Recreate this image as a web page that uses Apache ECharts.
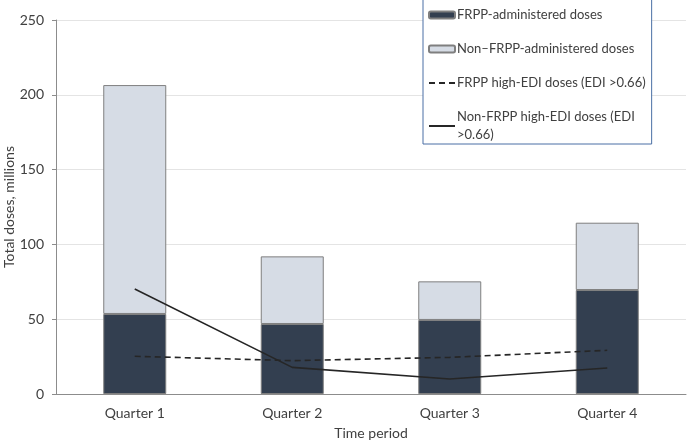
<!DOCTYPE html>
<html>
<head>
<meta charset="utf-8">
<script src="https://cdn.jsdelivr.net/npm/echarts@6/dist/echarts.min.js"></script>
<style>
html,body{margin:0;padding:0;background:#fff;}
#c{width:690px;height:443px;}
</style>
</head>
<body>
<div id="c"></div>
<script>
const categories = ['Quarter 1', 'Quarter 2', 'Quarter 3', 'Quarter 4'];
const frppDoses = [53.5, 46.8, 49.5, 69.5];
const nonFrppDoses = [153, 45.2, 25.8, 45];
const frppHighEdi = [25.2, 22.3, 24.5, 29.2];
const nonFrppHighEdi = [70.2, 17.8, 10, 17.4];
const yTicks = [0, 50, 100, 150, 200, 250];
const seriesNames = ['FRPP-administered doses', 'Non\u2013FRPP-administered doses', 'FRPP high-EDI doses (EDI >0.66)', 'Non-FRPP high-EDI doses (EDI >0.66)'];

const FONT = 'Lato';
const TXT = '#404040';
const chart = echarts.init(document.getElementById('c'), null, {renderer: 'canvas'});
chart.setOption({
  animation: false,
  backgroundColor: '#fff',
  textStyle: {fontFamily: FONT, color: TXT},
  grid: {left: 56, right: 4, top: 20, bottom: 49, containLabel: false, outerBoundsMode: 'none'},
  legend: {
    orient: 'vertical',
    left: 423, top: -1,
    padding: [7, 6, 0, 5],
    itemGap: 16,
    itemWidth: 26, itemHeight: 7,
    backgroundColor: '#fff',
    borderColor: '#4a6fa5', borderWidth: 1,
    textStyle: {fontFamily: FONT, fontSize: 13, color: TXT, lineHeight: 18, padding: [0, 0, 0, -3]},
    formatter: function (n) { return n === seriesNames[3] ? 'Non-FRPP high-EDI doses (EDI\n>0.66)' : n; },
    data: [
      {name: seriesNames[0]},
      {name: seriesNames[1]},
      {name: seriesNames[2], itemStyle: {opacity: 0}},
      {name: seriesNames[3], itemStyle: {opacity: 0}}
    ]
  },
  xAxis: {
    type: 'category', data: categories,
    name: 'Time period', nameLocation: 'middle', nameGap: 32, nameMoveOverlap: false,
    nameTextStyle: {fontFamily: FONT, fontSize: 14, color: TXT},
    axisLine: {lineStyle: {color: '#8c8c8c', width: 1}},
    axisTick: {show: false},
    axisLabel: {fontFamily: FONT, fontSize: 14, color: TXT, margin: 12}
  },
  yAxis: {
    type: 'value', min: yTicks[0], max: yTicks[yTicks.length - 1], interval: 50,
    name: 'Total doses, millions', nameLocation: 'middle', nameGap: 40, nameMoveOverlap: false,
    nameTextStyle: {fontFamily: FONT, fontSize: 14, color: TXT},
    axisLine: {show: true, lineStyle: {color: '#8c8c8c', width: 1}},
    axisTick: {show: true, length: 4, lineStyle: {color: '#8c8c8c'}},
    axisLabel: {fontFamily: FONT, fontSize: 14, color: TXT, margin: 12},
    splitLine: {lineStyle: {color: '#e4e4e4', width: 1}}
  },
  series: [
    {name: seriesNames[0], type: 'bar', stack: 'd', data: frppDoses, barWidth: '40%',
     itemStyle: {color: '#333f50', borderColor: '#7f7f7f', borderWidth: 1}},
    {name: seriesNames[1], type: 'bar', stack: 'd', data: nonFrppDoses, barWidth: '40%',
     itemStyle: {color: '#d6dce5', borderColor: '#7f7f7f', borderWidth: 1}},
    {name: seriesNames[2], type: 'line', data: frppHighEdi, symbol: 'none',
     lineStyle: {color: '#262626', width: 1.6, type: [6, 4]}, itemStyle: {color: '#262626'}},
    {name: seriesNames[3], type: 'line', data: nonFrppHighEdi, symbol: 'none',
     lineStyle: {color: '#262626', width: 1.6, type: 'solid'}, itemStyle: {color: '#262626'}}
  ]
});
</script>
</body>
</html>
